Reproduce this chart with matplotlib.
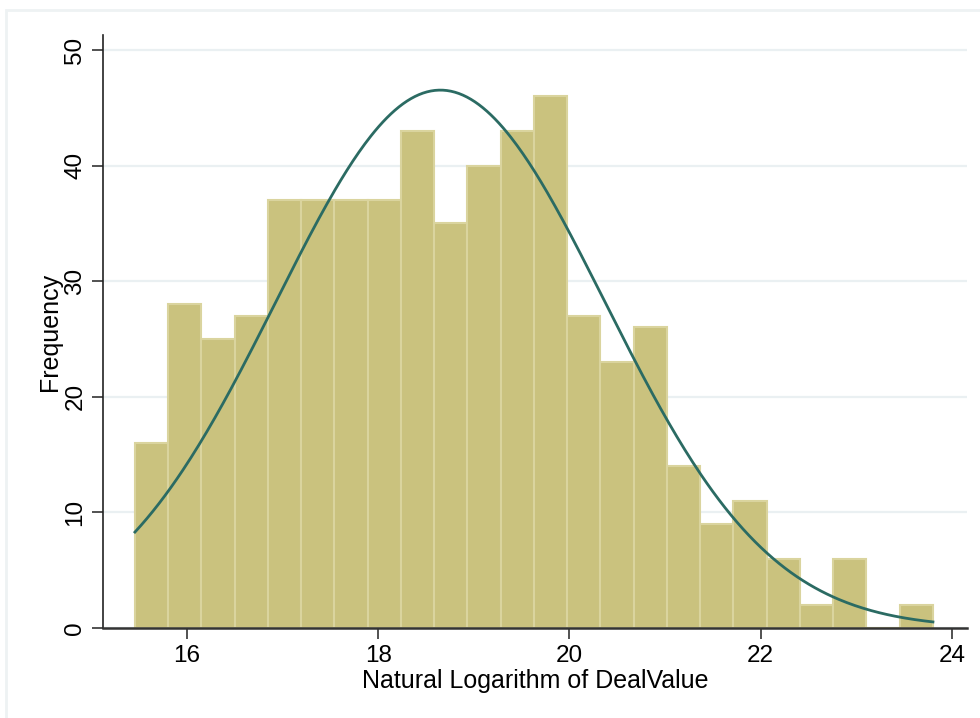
import numpy as np
import matplotlib
matplotlib.use("Agg")
import matplotlib.pyplot as plt
from matplotlib.patches import Rectangle

# Data
counts = [16, 28, 25, 27, 37, 37, 37, 37, 43, 35, 40, 43, 46, 27, 23, 26, 14, 9, 11, 6, 2, 6, 0, 2]
bin_start = 15.456
bin_width = 0.3477
fit_mean = 18.65
fit_sd = 1.72
x_ticks = [16, 18, 20, 22, 24]
y_ticks = [0, 10, 20, 30, 40, 50]
x_label = "Natural Logarithm of DealValue"
y_label = "Frequency"

plt.rcParams['font.family'] = ['Liberation Sans', 'DejaVu Sans']

fig = plt.figure(figsize=(9.8, 7.18), dpi=100)
fig.patch.set_facecolor('white')
# outer light frame (only top and left visible)
fig.add_artist(Rectangle((6/980, -0.1), 1.2, (718-10)/718 + 0.1, transform=fig.transFigure,
                         fill=False, edgecolor='#EEF2F3', linewidth=2))

ax = fig.add_axes([103/980, (718-628)/718, (967-103)/980, (628-35)/718])
ax.set_xlim(15.122, 24.157)
ax.set_ylim(0, 51.3)

edges = bin_start + bin_width * np.arange(len(counts))
ax.bar(edges, counts, width=bin_width, align='edge', color='#CAC27E',
       edgecolor='#DAD49E', linewidth=1.5, zorder=2)

n = sum(counts)
xs = np.linspace(bin_start, bin_start + bin_width * len(counts), 400)
ys = n * bin_width / (fit_sd * np.sqrt(2 * np.pi)) * np.exp(-0.5 * ((xs - fit_mean) / fit_sd) ** 2)
ax.plot(xs, ys, color='#2B6B63', linewidth=2, zorder=3)

ax.set_yticks(y_ticks)
ax.set_xticks(x_ticks)
ax.yaxis.grid(True, color='#EAF0F2', linewidth=1.6, zorder=0)
ax.set_axisbelow(True)
for s in ['top', 'right']:
    ax.spines[s].set_visible(False)
ax.spines['left'].set_color('#222222')
ax.spines['bottom'].set_color('#333333')
ax.spines['left'].set_linewidth(1.2)
ax.spines['bottom'].set_linewidth(1.8)
ax.tick_params(axis='both', length=8, width=1.2, color='#333333', labelsize=17.5, pad=4)
for lbl in ax.get_yticklabels():
    lbl.set_rotation(90)
    lbl.set_va('center')
ax.set_xlabel(x_label, fontsize=18, labelpad=2)
ax.set_ylabel(y_label, fontsize=18, labelpad=2)

fig.savefig("out.png", dpi=100, facecolor='white')
